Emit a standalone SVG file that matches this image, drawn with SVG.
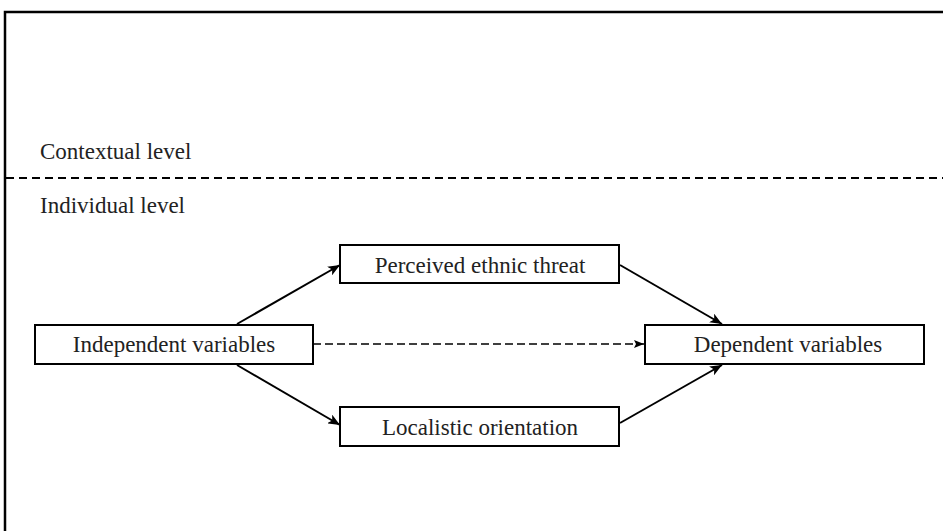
<svg xmlns="http://www.w3.org/2000/svg" width="943" height="531" viewBox="0 0 943 531">
<style>
.box{fill:#fff;stroke:#000;stroke-width:2}
.t{font-family:"Liberation Serif","Times New Roman",serif;font-size:23px;fill:#222}
.c{stroke:#000;stroke-width:2;fill:none}
</style>
<defs>
<marker id="ah" viewBox="0 0 12 10" refX="12" refY="5" markerWidth="12" markerHeight="10" markerUnits="userSpaceOnUse" orient="auto">
<path d="M0,0 L12,5 L0,10 L3,5 Z" fill="#000"/>
</marker>
<marker id="ahs" viewBox="0 0 10 8" refX="10" refY="4" markerWidth="10" markerHeight="8" markerUnits="userSpaceOnUse" orient="auto">
<path d="M0,0 L10,4 L0,8 L2,4 Z" fill="#000"/>
</marker>
</defs>
<rect width="943" height="531" fill="#fff"/>
<path d="M5,531 V12 H943" stroke="#000" stroke-width="2.5" fill="none"/>
<line x1="6" y1="178" x2="943" y2="178" stroke="#000" stroke-width="2" stroke-dasharray="8,5"/>
<text class="t" x="40" y="159">Contextual level</text>
<text class="t" x="40" y="213">Individual level</text>
<g id="connectors">
<line class="c" x1="237" y1="324" x2="340" y2="265" marker-end="url(#ah)"/>
<line class="c" x1="237" y1="365" x2="340" y2="425" marker-end="url(#ah)"/>
<line class="c" x1="620" y1="265" x2="722" y2="324" marker-end="url(#ah)"/>
<line class="c" x1="620" y1="423" x2="722" y2="365" marker-end="url(#ah)"/>
<line x1="313" y1="344" x2="644" y2="344" stroke="#000" stroke-width="1.3" stroke-dasharray="8,4" marker-end="url(#ahs)"/>
</g>
<g id="independent">
<rect class="box" x="35" y="325" width="278" height="39"/>
<text class="t" x="174" y="352" text-anchor="middle">Independent variables</text>
</g>
<g id="threat">
<rect class="box" x="340" y="245" width="279" height="38"/>
<text class="t" x="480" y="273" text-anchor="middle">Perceived ethnic threat</text>
</g>
<g id="localistic">
<rect class="box" x="340" y="407" width="279" height="39"/>
<text class="t" x="480" y="435" text-anchor="middle">Localistic orientation</text>
</g>
<g id="dependent">
<rect class="box" x="645" y="325" width="279" height="39"/>
<text class="t" x="788" y="352" text-anchor="middle">Dependent variables</text>
</g>
</svg>
